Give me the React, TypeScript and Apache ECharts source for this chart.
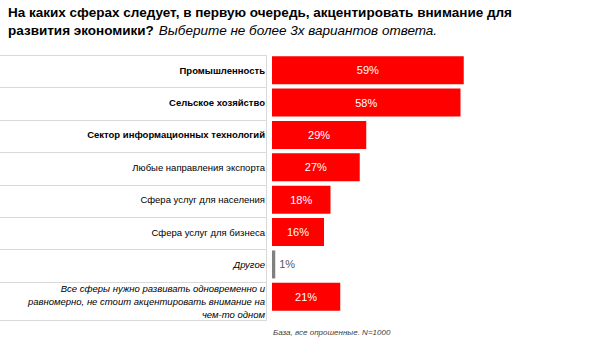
import React, { useEffect, useRef } from "react";
import * as echarts from "echarts";

const categories = [
  "Промышленность",
  "Сельское хозяйство",
  "Сектор информационных технологий",
  "Любые направления экспорта",
  "Сфера услуг для населения",
  "Сфера услуг для бизнеса",
  "Другое",
  "Все сферы нужно развивать одновременно и\nравномерно, не стоит акцентировать внимание на\nчем-то одном",
];
const values = [59, 58, 29, 27, 18, 16, 1, 21];
const boldIdx = [0, 1, 2];
const italicIdx = [6, 7];
const otherIdx = 6;

const titleLine1 = "На каких сферах следует, в первую очередь, акцентировать внимание для";
const titleLine2Bold = "развития экономики?";
const titleLine2Italic = "Выберите не более 3х вариантов ответа.";
const footnote = "База, все опрошенные. N=1000";

const FONT = "'Liberation Sans', Arial, sans-serif";
const GRID_LEFT = 272;
const GRID_TOP = 54;
const GRID_H = 259;
const GRID_W = 325;

export default function App() {
  const ref = useRef<HTMLDivElement>(null);
  useEffect(() => {
    if (!ref.current) return;
    const chart = echarts.init(ref.current, null, { renderer: "svg" });
    const band = GRID_H / categories.length;
    const lines: any[] = [];
    for (let i = 0; i < categories.length; i++) {
      const y = Math.round(GRID_TOP + i * band) + 1.5;
      lines.push({
        type: "line",
        shape: { x1: 0, y1: y, x2: 266, y2: y },
        style: { stroke: "#d9d9d9", lineWidth: 1 },
      });
    }
    lines.push({
      type: "line",
      shape: { x1: 0, y1: 320.5, x2: 266, y2: 320.5 },
      style: { stroke: "#d9d9d9", lineWidth: 1 },
    });
    lines.push({
      type: "line",
      shape: { x1: 266.5, y1: 55, x2: 266.5, y2: 321 },
      style: { stroke: "#d9d9d9", lineWidth: 1 },
    });

    const labelFmt = (value: string, index: number) => {
      const key = boldIdx.includes(index) ? "b" : italicIdx.includes(index) ? "i" : "n";
      const parts = value.split("\n").map((s) => "{" + key + "|" + s + "}");
      const out = parts.join("\n");
      return parts.length > 1 ? "{p|}\n" + out : out;
    };

    chart.setOption({
      animation: false,
      title: [
        {
          text:
            "{b|" + titleLine1 + "}\n{b|" + titleLine2Bold + "} {i|" + titleLine2Italic + "}",
          left: 8,
          top: 4,
          padding: 0,
          textStyle: {
            fontWeight: "normal",
            rich: {
              b: { fontFamily: FONT, fontSize: 13.5, fontWeight: "bold", color: "#000", lineHeight: 17 },
              i: { fontFamily: FONT, fontSize: 13.5, fontWeight: "normal", fontStyle: "italic", color: "#000", lineHeight: 17 },
            },
          },
        },
        {
          text: footnote,
          left: 273,
          top: 328,
          padding: 0,
          textStyle: { fontFamily: FONT, fontSize: 8, fontStyle: "italic", fontWeight: "normal", color: "#404040" },
        },
      ],
      graphic: lines,
      grid: { left: GRID_LEFT, top: GRID_TOP, height: GRID_H, width: GRID_W, containLabel: false },
      xAxis: {
        type: "value",
        min: 0,
        max: 100,
        show: false,
      },
      yAxis: {
        type: "category",
        inverse: true,
        data: categories,
        axisLine: { show: false },
        axisTick: { show: false },
        splitLine: { show: false },
        axisLabel: {
          margin: 7,
          align: "right",
          formatter: labelFmt,
          rich: {
            b: { fontFamily: FONT, fontSize: 9.5, fontWeight: "bold", color: "#000", lineHeight: 13, align: "right" },
            n: { fontFamily: FONT, fontSize: 9.5, fontWeight: "normal", color: "#000", lineHeight: 13, align: "right" },
            i: { fontFamily: FONT, fontSize: 9.5, fontWeight: "normal", fontStyle: "italic", color: "#000", lineHeight: 13, align: "right" },
            p: { fontSize: 1, lineHeight: 10 },
          },
        },
      },
      series: [
        {
          type: "bar",
          barWidth: 28,
          data: values.map((v, i) => ({
            value: v,
            itemStyle: { color: i === otherIdx ? "#808080" : "#ff0000" },
            label:
              i === otherIdx
                ? { position: "right", color: "#595959", distance: 4 }
                : { position: "inside", color: "#fff" },
          })),
          label: {
            show: true,
            formatter: "{c}%",
            fontFamily: FONT,
            fontSize: 11,
          },
        },
      ],
    });
    return () => chart.dispose();
  }, []);
  return <div ref={ref} style={{ width: 601, height: 345, position: "absolute", left: 0, top: 0, background: "#fff" }} />;
}
